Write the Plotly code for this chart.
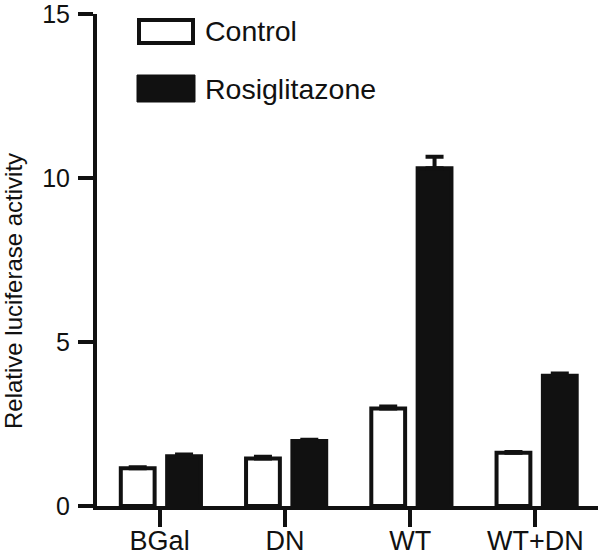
import plotly.graph_objects as go

categories = ["BGal", "DN", "WT", "WT+DN"]
control = [1.15, 1.45, 2.97, 1.62]
control_err = [0.03, 0.05, 0.06, 0.03]
rosi = [1.52, 1.98, 10.3, 3.97]
rosi_err = [0.05, 0.04, 0.35, 0.07]
y_ticks = [0, 5, 10, 15]

FONT = "Liberation Sans, Arial, sans-serif"
xpos = list(range(len(categories)))

fig = go.Figure()
fig.add_trace(go.Bar(
    x=xpos, y=control, name="Control",
    width=0.27, offset=-0.31,
    marker=dict(color="white", line=dict(color="#111", width=4)),
    error_y=dict(type="data", array=control_err, arrayminus=[0]*4, symmetric=False,
                 color="#111", thickness=4, width=9),
    showlegend=False,
))
fig.add_trace(go.Bar(
    x=xpos, y=rosi, name="Rosiglitazone",
    width=0.27, offset=0.06,
    marker=dict(color="#111", line=dict(color="#111", width=4)),
    error_y=dict(type="data", array=rosi_err, arrayminus=[0]*4, symmetric=False,
                 color="#111", thickness=4, width=9),
    showlegend=False,
))

W, H = 600, 557
L, R, T, B = 97, 2, 14, 51
pw, ph = W - L - R, H - T - B

def px(xp):
    return (xp - L) / pw

def py(yp):
    return (H - B - yp) / ph

# legend drawn manually
fig.add_shape(type="rect", xref="paper", yref="paper",
              x0=px(139), x1=px(193), y0=py(20), y1=py(43),
              line=dict(color="#111", width=4), fillcolor="white")
fig.add_shape(type="rect", xref="paper", yref="paper",
              x0=px(137), x1=px(195), y0=py(75), y1=py(102),
              line=dict(color="#111", width=1), fillcolor="#111")
fig.add_annotation(xref="paper", yref="paper", x=px(203), y=py(31),
                   text="Control", showarrow=False, xanchor="left", yanchor="middle",
                   font=dict(family=FONT, size=28.5, color="#111"))
fig.add_annotation(xref="paper", yref="paper", x=px(203), y=py(89),
                   text="Rosiglitazone", showarrow=False, xanchor="left", yanchor="middle",
                   font=dict(family=FONT, size=28.5, color="#111"))
# y-axis title
fig.add_annotation(xref="paper", yref="paper", x=px(13), y=py(291),
                   text="Relative luciferase activity", showarrow=False, textangle=-90,
                   xanchor="center", yanchor="middle",
                   font=dict(family=FONT, size=24, color="#111"))

fig.update_layout(
    width=W, height=H,
    margin=dict(l=L, r=R, t=T, b=B, autoexpand=False),
    plot_bgcolor="white", paper_bgcolor="white",
    font=dict(family=FONT, color="#111"),
    barmode="overlay",
    xaxis=dict(
        range=[-0.5, 3.5], tickvals=xpos, ticktext=categories,
        showline=True, linecolor="#111", linewidth=4,
        ticks="outside", ticklen=17, tickwidth=4, tickcolor="#111",
        tickfont=dict(family=FONT, size=27, color="#111"),
        ticklabelstandoff=-9, ticklabeloverflow="allow",
        showgrid=False, zeroline=False, fixedrange=True,
    ),
    yaxis=dict(
        range=[0, 15], tickvals=y_ticks,
        showline=True, linecolor="#111", linewidth=4,
        ticks="outside", ticklen=15, tickwidth=4, tickcolor="#111",
        tickfont=dict(family=FONT, size=25, color="#111"),
        ticklabelstandoff=3, ticklabeloverflow="allow",
        showgrid=False, zeroline=False, fixedrange=True,
    ),
)

fig.write_html("out.html", config={"displayModeBar": False},
               post_script="document.body.style.margin='0';document.body.style.overflow='hidden';")
